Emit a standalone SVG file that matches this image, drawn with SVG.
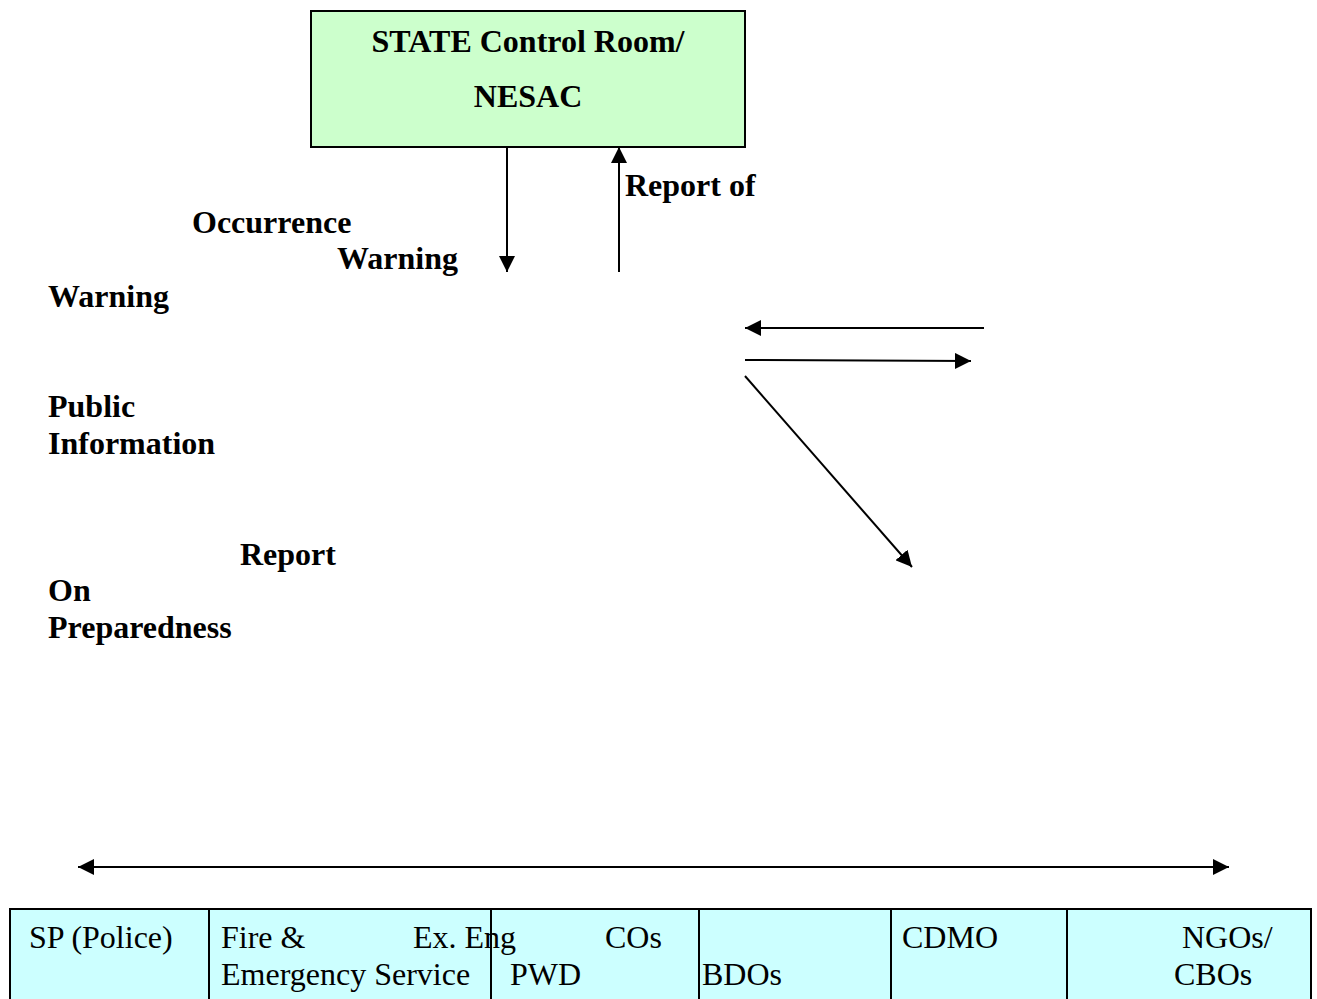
<svg xmlns="http://www.w3.org/2000/svg" width="1317" height="999" viewBox="0 0 1317 999">
<defs>
<style>
.b{font-family:"Liberation Serif","Times New Roman",serif;font-weight:bold;font-size:32px;fill:#000}
.r{font-family:"Liberation Serif","Times New Roman",serif;font-size:32px;fill:#000}
.ln{stroke:#000;stroke-width:2;fill:none}
</style>
<marker id="ah" viewBox="0 0 10 10" refX="10" refY="5" markerWidth="8" markerHeight="8" markerUnits="userSpaceOnUse" orient="auto-start-reverse">
<path d="M0,0 L10,5 L0,10 z" fill="#000"/>
</marker>
<marker id="ah2" viewBox="0 0 10 10" refX="10" refY="5" markerWidth="16" markerHeight="16" markerUnits="userSpaceOnUse" orient="auto-start-reverse">
<path d="M0,0 L10,5 L0,10 z" fill="#000"/>
</marker>
</defs>
<rect width="1317" height="999" fill="#fff"/>
<g id="state">
<rect x="311" y="11" width="434" height="136" fill="#ccffcc" stroke="#000" stroke-width="2"/>
<text class="b" x="528" y="52" text-anchor="middle">STATE Control Room/</text>
<text class="b" x="528" y="107" text-anchor="middle">NESAC</text>
</g>
<g id="labels">
<text class="b" x="625" y="196">Report of</text>
<text class="b" x="192" y="233">Occurrence</text>
<text class="b" x="337" y="269">Warning</text>
<text class="b" x="48" y="307">Warning</text>
<text class="b" x="48" y="417">Public</text>
<text class="b" x="48" y="454">Information</text>
<text class="b" x="240" y="565">Report</text>
<text class="b" x="48" y="601">On</text>
<text class="b" x="48" y="638">Preparedness</text>
</g>
<g id="agencies">
<rect x="10" y="909" width="1301" height="100" fill="#ccffff" stroke="#000" stroke-width="2"/>
<line class="ln" x1="209" y1="909" x2="209" y2="999"/>
<line class="ln" x1="491" y1="909" x2="491" y2="999"/>
<line class="ln" x1="699" y1="909" x2="699" y2="999"/>
<line class="ln" x1="891" y1="909" x2="891" y2="999"/>
<line class="ln" x1="1067" y1="909" x2="1067" y2="999"/>
<text class="r" x="29" y="948">SP (Police)</text>
<text class="r" x="221" y="948">Fire &amp;</text>
<text class="r" x="221" y="985">Emergency Service</text>
<text class="r" x="413" y="948">Ex. Eng</text>
<text class="r" x="605" y="948">COs</text>
<text class="r" x="510" y="985">PWD</text>
<text class="r" x="702" y="985">BDOs</text>
<text class="r" x="902" y="948">CDMO</text>
<text class="r" x="1182" y="948">NGOs/</text>
<text class="r" x="1174" y="985">CBOs</text>
</g>
<g id="connectors">
<line class="ln" x1="507" y1="147" x2="507" y2="272" marker-end="url(#ah2)"/>
<line class="ln" x1="619" y1="272" x2="619" y2="147" marker-end="url(#ah2)"/>
<line class="ln" x1="984" y1="328" x2="745" y2="328" marker-end="url(#ah2)"/>
<line class="ln" x1="745" y1="360" x2="971" y2="361" marker-end="url(#ah2)"/>
<line class="ln" x1="745" y1="376" x2="912" y2="567" marker-end="url(#ah2)"/>
<line class="ln" x1="78" y1="867" x2="1229" y2="867" marker-start="url(#ah2)" marker-end="url(#ah2)"/>
</g>
</svg>
